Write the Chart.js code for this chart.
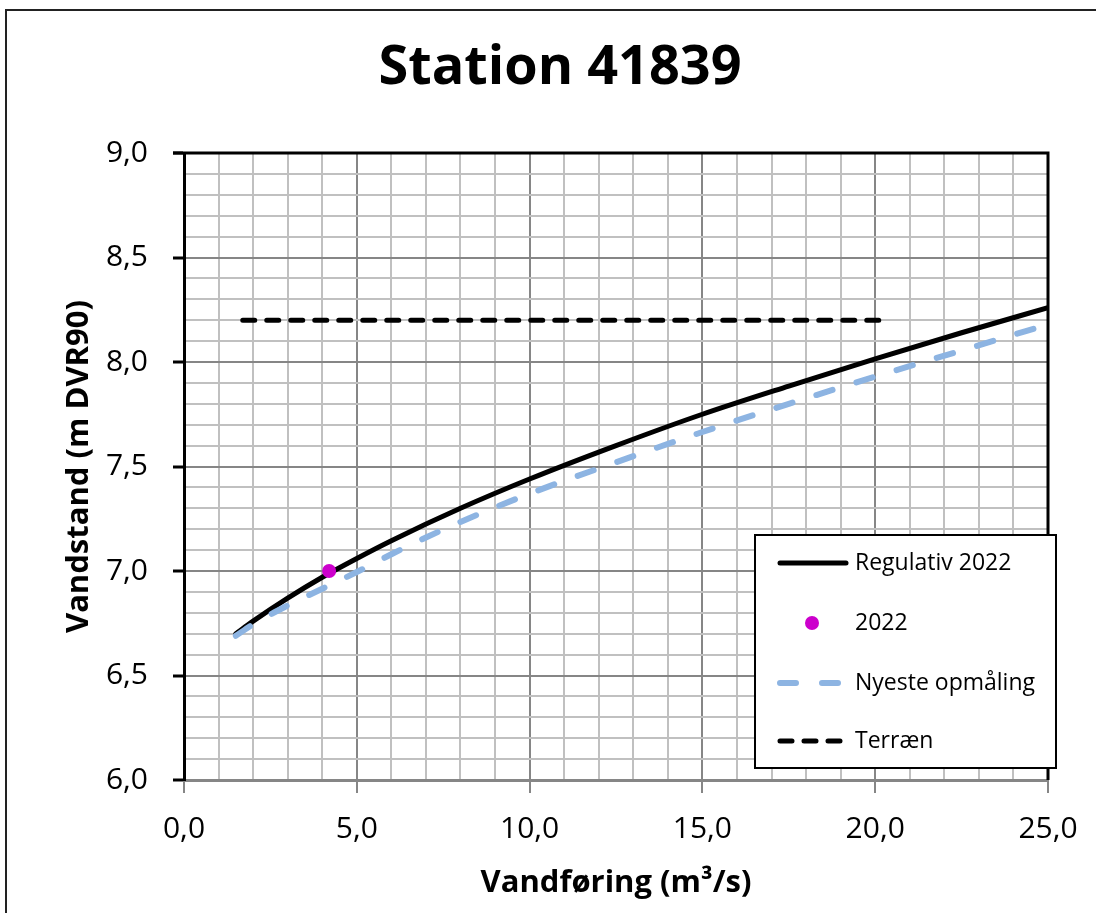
<!DOCTYPE html>
<html>
<head>
<meta charset="utf-8">
<title>Station 41839</title>
<script src="https://cdn.jsdelivr.net/npm/chart.js@4/dist/chart.umd.min.js"></script>
<style>
    html, body { margin: 0; padding: 0; background: #fff; }
    #wrap { width: 1096px; height: 913px; }
</style>
</head>
<body>
<div id="wrap"><canvas id="chart" width="1096" height="913"></canvas></div>
<script>
// Regulativ 2022 (Q in m3/s, H in m DVR90)
const regQ = [1.5, 2, 3, 4, 5, 6, 8, 10, 12.5, 15, 17.5, 20, 22.5, 25];
const regH = [6.70, 6.76, 6.87, 6.97, 7.06, 7.145, 7.30, 7.44, 7.60, 7.75, 7.885, 8.015, 8.14, 8.26];

// 2022 measurement
const maalQ = [4.2];
const maalH = [7.0];

// Nyeste opmaaling
const nyQ = [1.5, 2, 3, 4, 5, 6, 7, 8, 10, 12.5, 15, 17.5, 20, 22.5, 24.8];
const nyH = [6.69, 6.745, 6.835, 6.915, 6.995, 7.08, 7.16, 7.235, 7.37, 7.52, 7.665, 7.80, 7.93, 8.055, 8.17];

// Terraen
const terQ = [1.7, 20.3];
const terH = [8.2, 8.2];

const seriesLabels = ['Regulativ 2022', '2022', 'Nyeste opmåling', 'Terræn'];
const chartTitle = 'Station 41839';
const xTitle = 'Vandføring (m³/s)';
const yTitle = 'Vandstand (m DVR90)';

const FONT = "'Open Sans', 'Noto Sans', sans-serif";

function toPoints(xs, ys) {
    return xs.map((x, i) => ({ x: x, y: ys[i] }));
}

function fmt(v) {
    return v.toFixed(1).replace('.', ',');
}

const isMajorY = v => Math.abs(v * 2 - Math.round(v * 2)) < 1e-6;
const isMajorX = v => Math.abs(v / 5 - Math.round(v / 5)) < 1e-6;

// frame, title, plot borders and the boxed legend
const decorPlugin = {
    id: 'decor',
    beforeDraw(chart) {
        const ctx = chart.ctx;
        ctx.save();
        ctx.fillStyle = '#fff';
        ctx.fillRect(0, 0, chart.width, chart.height);
        ctx.strokeStyle = '#222';
        ctx.lineWidth = 2;
        ctx.strokeRect(6, 10, chart.width + 20, chart.height + 20);

        ctx.fillStyle = '#000';
        ctx.font = "bold 54px " + FONT;
        ctx.textAlign = 'center';
        ctx.textBaseline = 'middle';
        ctx.fillText(chartTitle, 560, 69);
        ctx.restore();
    },
    beforeDatasetsDraw(chart) {
        const ctx = chart.ctx;
        const a = chart.chartArea;
        ctx.save();
        ctx.strokeStyle = '#000';
        ctx.lineWidth = 3;
        ctx.beginPath();
        ctx.moveTo(a.left - 11, a.top);
        ctx.lineTo(a.right, a.top);
        ctx.lineTo(a.right, a.bottom);
        ctx.stroke();
        ctx.restore();
    },
    afterDatasetsDraw(chart) {
        const ctx = chart.ctx;
        const box = { x: 755, y: 535, w: 301, h: 233 };
        ctx.save();
        ctx.fillStyle = '#fff';
        ctx.fillRect(box.x, box.y, box.w, box.h);
        ctx.strokeStyle = '#000';
        ctx.lineWidth = 2;
        ctx.strokeRect(box.x, box.y, box.w, box.h);

        const rowY = [563, 623, 683, 741];
        ctx.font = "23px " + FONT;
        ctx.textBaseline = 'middle';
        ctx.textAlign = 'left';
        chart.data.datasets.forEach((ds, i) => {
            const y = rowY[i];
            if (ds.showLine) {
                ctx.beginPath();
                ctx.strokeStyle = ds.borderColor;
                ctx.lineWidth = ds.borderWidth;
                ctx.lineCap = ds.borderCapStyle || 'butt';
                ctx.setLineDash(ds.legendDash || ds.borderDash || []);
                ctx.moveTo(ds.legendStart || 780, y);
                ctx.lineTo(ds.legendEnd || 846, y);
                ctx.stroke();
                ctx.setLineDash([]);
            } else {
                ctx.beginPath();
                ctx.fillStyle = ds.pointBackgroundColor;
                ctx.arc(812, y, ds.pointRadius, 0, Math.PI * 2);
                ctx.fill();
            }
            ctx.fillStyle = '#000';
            ctx.fillText(ds.label, 855, y);
        });
        ctx.restore();
    }
};

const ctx = document.getElementById('chart').getContext('2d');

new Chart(ctx, {
    type: 'scatter',
    data: {
        datasets: [
            {
                label: seriesLabels[0],
                data: toPoints(regQ, regH),
                showLine: true,
                borderColor: '#000',
                borderWidth: 5,
                borderCapStyle: 'round',
                pointRadius: 0,
                cubicInterpolationMode: 'monotone',
                order: 2
            },
            {
                label: seriesLabels[1],
                data: toPoints(maalQ, maalH),
                showLine: false,
                pointRadius: 7,
                pointBackgroundColor: '#CC00CC',
                pointBorderColor: '#CC00CC',
                pointBorderWidth: 0,
                order: 0
            },
            {
                label: seriesLabels[2],
                data: toPoints(nyQ, nyH),
                showLine: true,
                borderColor: '#8DB4E2',
                borderWidth: 6,
                borderCapStyle: 'round',
                borderDash: [17, 25],
                legendDash: [16, 26],
                legendStart: 780,
                legendEnd: 842,
                pointRadius: 0,
                cubicInterpolationMode: 'monotone',
                order: 1
            },
            {
                label: seriesLabels[3],
                data: toPoints(terQ, terH),
                showLine: true,
                borderColor: '#000',
                borderWidth: 5,
                borderCapStyle: 'round',
                borderDash: [12, 12],
                legendStart: 780,
                legendEnd: 840,
                pointRadius: 0,
                order: 3
            }
        ]
    },
    options: {
        responsive: false,
        animation: false,
        layout: {
            padding: { top: 153, right: 48, left: 0, bottom: 0 }
        },
        plugins: {
            legend: { display: false },
            title: { display: false },
            tooltip: { enabled: false }
        },
        scales: {
            x: {
                type: 'linear',
                min: 0,
                max: 25,
                afterFit: scale => { scale.height = 133; },
                border: { color: '#868686', width: 3 },
                grid: {
                    color: c => isMajorX(c.tick.value) ? '#868686' : '#C0C0C0',
                    lineWidth: 2,
                    drawTicks: true,
                    tickLength: 13,
                    tickColor: c => isMajorX(c.tick.value) ? '#868686' : 'rgba(0,0,0,0)',
                    tickWidth: 2
                },
                ticks: {
                    stepSize: 1,
                    autoSkip: false,
                    maxRotation: 0,
                    padding: 18,
                    color: '#000',
                    font: { family: FONT, size: 30 },
                    callback: v => isMajorX(v) ? fmt(v) : ''
                },
                title: {
                    display: true,
                    text: xTitle,
                    color: '#000',
                    font: { family: FONT, size: 31, weight: 'bold' },
                    padding: { top: 0, bottom: 11 }
                }
            },
            y: {
                type: 'linear',
                min: 6,
                max: 9,
                afterFit: scale => { scale.width = 184; },
                border: { color: '#000', width: 3 },
                grid: {
                    color: c => isMajorY(c.tick.value) ? '#868686' : '#C0C0C0',
                    lineWidth: 2,
                    drawTicks: true,
                    tickLength: 11,
                    tickColor: c => isMajorY(c.tick.value) ? '#000' : 'rgba(0,0,0,0)',
                    tickWidth: 3
                },
                ticks: {
                    stepSize: 0.1,
                    autoSkip: false,
                    padding: 25,
                    color: '#000',
                    font: { family: FONT, size: 30 },
                    callback: v => isMajorY(v) ? fmt(v) : ''
                },
                title: {
                    display: true,
                    text: yTitle,
                    color: '#000',
                    font: { family: FONT, size: 31, weight: 'bold' },
                    padding: { top: 61, bottom: 0 }
                }
            }
        }
    },
    plugins: [decorPlugin]
});
</script>
</body>
</html>
